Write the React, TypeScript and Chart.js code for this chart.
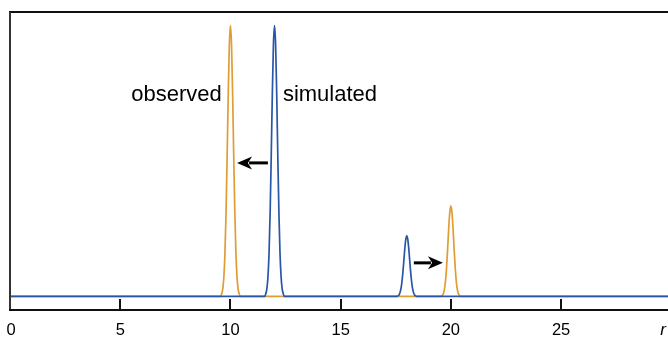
import React, { useEffect, useRef } from "react";
import { Chart, registerables } from "chart.js";

Chart.register(...registerables);

// x-axis ticks
const tickValues = [0, 5, 10, 15, 20, 25];
const axisTitle = "r";

// simulated (blue) series
const simulatedX = [0, 11.55, 11.6, 11.65, 11.7, 11.75, 11.8, 11.85, 11.9, 11.95, 12, 12.05, 12.1, 12.15, 12.2, 12.25, 12.3, 12.35, 12.4, 12.45,
  17.55, 17.6, 17.65, 17.7, 17.75, 17.8, 17.85, 17.9, 17.95, 18, 18.05, 18.1, 18.15, 18.2, 18.25, 18.3, 18.35, 18.4, 18.45, 30];
const simulatedY = [0, 0, 0.009, 0.027, 0.07, 0.157, 0.306, 0.514, 0.744, 0.929, 1, 0.929, 0.744, 0.514, 0.306, 0.157, 0.07, 0.027, 0.009, 0,
  0, 0.002, 0.006, 0.016, 0.035, 0.069, 0.115, 0.167, 0.208, 0.224, 0.208, 0.167, 0.115, 0.069, 0.035, 0.016, 0.006, 0.002, 0, 0];

// observed (orange) series
const observedX = [0, 9.55, 9.6, 9.65, 9.7, 9.75, 9.8, 9.85, 9.9, 9.95, 10, 10.05, 10.1, 10.15, 10.2, 10.25, 10.3, 10.35, 10.4, 10.45,
  19.55, 19.6, 19.65, 19.7, 19.75, 19.8, 19.85, 19.9, 19.95, 20, 20.05, 20.1, 20.15, 20.2, 20.25, 20.3, 20.35, 20.4, 20.45, 30];
const observedY = [0, 0, 0.009, 0.027, 0.07, 0.157, 0.306, 0.514, 0.744, 0.929, 1, 0.929, 0.744, 0.514, 0.306, 0.157, 0.07, 0.027, 0.009, 0,
  0, 0.003, 0.009, 0.023, 0.052, 0.102, 0.172, 0.248, 0.31, 0.334, 0.31, 0.248, 0.172, 0.102, 0.052, 0.023, 0.009, 0.003, 0, 0];

// annotations (data coordinates)
const labelTexts = ["observed", "simulated"];
const labelX = [9.61, 12.38];
const labelY = [0.722, 0.722];
const arrowFromX = [11.7, 18.32];
const arrowToX = [10.3, 19.64];
const arrowY = [0.493, 0.124];

const BLUE = "#2956a6";
const ORANGE = "#e09d34";
const FONT = "'Liberation Sans', Arial, Helvetica, sans-serif";

const decorPlugin = {
  id: "decor",
  afterDraw(chart: any) {
    const ctx = chart.ctx;
    const area = chart.chartArea;
    const xs = chart.scales.x;
    const ys = chart.scales.y;
    ctx.save();
    // frame
    ctx.lineWidth = 2;
    ctx.strokeStyle = "#111";
    ctx.beginPath();
    ctx.moveTo(area.left - 1, area.top);
    ctx.lineTo(area.right + 2, area.top);
    ctx.stroke();
    ctx.strokeStyle = "#333";
    ctx.beginPath();
    ctx.moveTo(area.left, area.top);
    ctx.lineTo(area.left, area.bottom);
    ctx.stroke();
    ctx.strokeStyle = "#111";
    ctx.beginPath();
    ctx.moveTo(area.left - 1, area.bottom);
    ctx.lineTo(area.right + 2, area.bottom);
    ctx.stroke();
    // ticks
    ctx.lineWidth = 2;
    tickValues.forEach((v) => {
      if (v === 0) return;
      const px = Math.round(xs.getPixelForValue(v));
      ctx.beginPath();
      ctx.moveTo(px, area.bottom);
      ctx.lineTo(px, area.bottom - 11);
      ctx.stroke();
    });
    // tick labels
    ctx.fillStyle = "#000";
    ctx.font = `16.5px ${FONT}`;
    ctx.textAlign = "center";
    ctx.textBaseline = "alphabetic";
    tickValues.forEach((v) => {
      let px = xs.getPixelForValue(v);
      if (v === 0) px += 1;
      ctx.fillText(String(v), px, area.bottom + 25);
    });
    ctx.font = `italic 17px ${FONT}`;
    ctx.fillText(axisTitle, area.right - 5, area.bottom + 25);
    // labels
    ctx.font = `22px ${FONT}`;
    labelTexts.forEach((t, i) => {
      ctx.textAlign = i === 0 ? "right" : "left";
      ctx.fillText(t, xs.getPixelForValue(labelX[i]), ys.getPixelForValue(labelY[i]));
    });
    // arrows
    arrowFromX.forEach((fx, i) => {
      const x0 = xs.getPixelForValue(fx);
      const x1 = xs.getPixelForValue(arrowToX[i]);
      const y = ys.getPixelForValue(arrowY[i]);
      const dir = x1 > x0 ? 1 : -1;
      const headLen = 15;
      const headHalf = 6.5;
      ctx.strokeStyle = "#000";
      ctx.lineWidth = 3;
      ctx.beginPath();
      ctx.moveTo(x0, y);
      ctx.lineTo(x1 - dir * headLen * 0.8, y);
      ctx.stroke();
      ctx.fillStyle = "#000";
      ctx.beginPath();
      ctx.moveTo(x1, y);
      ctx.lineTo(x1 - dir * headLen, y - headHalf);
      ctx.lineTo(x1 - dir * headLen * 0.72, y);
      ctx.lineTo(x1 - dir * headLen, y + headHalf);
      ctx.closePath();
      ctx.fill();
    });
    ctx.restore();
  },
};

export default function App() {
  const ref = useRef<HTMLCanvasElement | null>(null);
  useEffect(() => {
    if (!ref.current) return;
    const chart = new Chart(ref.current, {
      type: "line",
      data: {
        datasets: [
          {
            label: "simulated",
            data: simulatedX.map((x, i) => ({ x, y: simulatedY[i] })),
            borderColor: BLUE,
            borderWidth: 1.7,
            pointRadius: 0,
            cubicInterpolationMode: "monotone",
          },
          {
            label: "observed",
            data: observedX.map((x, i) => ({ x, y: observedY[i] })),
            borderColor: ORANGE,
            borderWidth: 1.7,
            pointRadius: 0,
            cubicInterpolationMode: "monotone",
          },
        ],
      },
      options: {
        responsive: false,
        animation: false,
        devicePixelRatio: 1,
        layout: { padding: { left: 10, top: 12, right: 0, bottom: 27 } },
        plugins: { legend: { display: false }, tooltip: { enabled: false } },
        scales: {
          x: { type: "linear", min: 0, max: 29.85, display: false },
          y: { type: "linear", min: -0.05, max: 1.05, display: false },
        },
      },
      plugins: [decorPlugin],
    } as any);
    return () => chart.destroy();
  }, []);
  return (
    <div style={{ position: "fixed", left: 0, top: 0, width: 668, height: 337, overflow: "hidden", background: "#fff" }}>
      <canvas ref={ref} width={668} height={337} style={{ display: "block" }} />
    </div>
  );
}
